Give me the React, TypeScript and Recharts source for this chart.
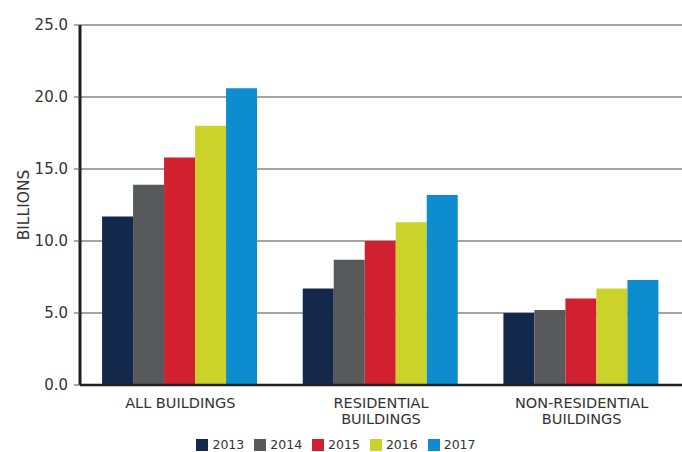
import { BarChart, Bar, CartesianGrid, XAxis, YAxis, Legend, Label } from "recharts";

const categories = ["ALL BUILDINGS", "RESIDENTIAL BUILDINGS", "NON-RESIDENTIAL BUILDINGS"];
const categoryLines = [["ALL BUILDINGS"], ["RESIDENTIAL", "BUILDINGS"], ["NON-RESIDENTIAL", "BUILDINGS"]];

const years = ["2013", "2014", "2015", "2016", "2017"];
const v2013 = [11.7, 6.7, 5.0];
const v2014 = [13.9, 8.7, 5.2];
const v2015 = [15.8, 10.0, 6.0];
const v2016 = [18.0, 11.3, 6.7];
const v2017 = [20.6, 13.2, 7.3];
const yTicks = [0, 5, 10, 15, 20, 25];

const colors = ["#14284b", "#58595b", "#d12030", "#cbd22a", "#0d8ccf"];
const seriesValues = [v2013, v2014, v2015, v2016, v2017];

const data = categories.map((name, i) => {
  const row: Record<string, number | string> = { name };
  years.forEach((y, j) => {
    row[y] = seriesValues[j][i];
  });
  return row;
});

const FONT = "'DejaVu Sans', sans-serif";

function CategoryTick(props: any) {
  const { x, y, payload } = props;
  const lines = categoryLines[payload.index] ?? [payload.value];
  return (
    <text x={x} y={y} textAnchor="middle" fill="#333" fontSize={14.5} fontFamily={FONT}>
      {lines.map((l: string, i: number) => (
        <tspan key={i} x={x} dy={i === 0 ? 23 : 15.5}>
          {l}
        </tspan>
      ))}
    </text>
  );
}

function LegendContent() {
  return (
    <div
      style={{
        height: 24,
        paddingTop: 10,
        boxSizing: "border-box",
        display: "flex",
        justifyContent: "center",
        fontFamily: FONT,
        fontSize: 12.5,
        color: "#333",
        lineHeight: "16px",
      }}
    >
      {years.map((y, i) => (
        <div key={y} style={{ display: "flex", alignItems: "center", marginRight: 10 }}>
          <span style={{ width: 12, height: 12, background: colors[i], marginRight: 4, display: "inline-block" }} />
          <span>{y}</span>
        </div>
      ))}
    </div>
  );
}

export default function App() {
  return (
    <div style={{ width: 682, height: 452, background: "#fff" }}>
      <style>{`body{margin:0}`}</style>
      <BarChart
        width={682}
        height={452}
        data={data}
        margin={{ top: 25, right: 0, bottom: 0, left: 0 }}
        barCategoryGap="11%"
        barGap={0}
      >
        <CartesianGrid vertical={false} stroke="#4a4a4a" strokeWidth={1} />
        <XAxis
          dataKey="name"
          height={43}
          tickLine={false}
          tickSize={0}
          tickMargin={0}
          axisLine={{ stroke: "#231f20", strokeWidth: 2.5 }}
          tick={<CategoryTick />}
          interval={0}
        />
        <YAxis
          width={80}
          domain={[0, 25]}
          ticks={yTicks}
          tickFormatter={(v: number) => v.toFixed(1)}
          axisLine={{ stroke: "#231f20", strokeWidth: 3 }}
          tickLine={{ stroke: "#555" }}
          tickSize={6}
          tickMargin={6}
          tick={{ fill: "#333", fontSize: 15, fontFamily: FONT }}
        >
          <Label
            value="BILLIONS"
            angle={-90}
            position="center"
            dx={-17}
            style={{ fill: "#333", fontSize: 15.5, fontFamily: FONT }}
          />
        </YAxis>
        <Legend verticalAlign="bottom" height={24} content={<LegendContent />} />
        {years.map((y, i) => (
          <Bar key={y} dataKey={y} fill={colors[i]} isAnimationActive={false} />
        ))}
      </BarChart>
    </div>
  );
}
